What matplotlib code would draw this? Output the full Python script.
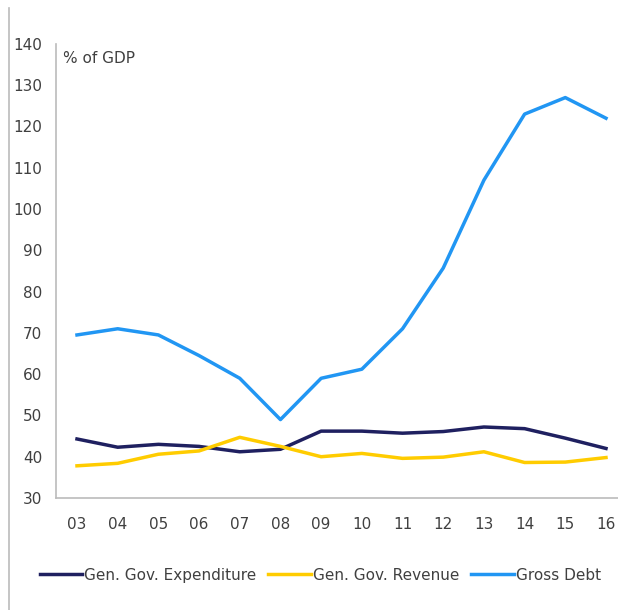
import numpy as np
import matplotlib.pyplot as plt
from matplotlib.lines import Line2D

plt.rcParams['font.family'] = ['DejaVu Sans']

years = ['03', '04', '05', '06', '07', '08', '09', '10', '11', '12', '13', '14', '15', '16']
expenditure = [44.3, 42.3, 43.0, 42.5, 41.2, 41.8, 46.2, 46.2, 45.7, 46.1, 47.2, 46.8, 44.5, 42.0]
revenue = [37.8, 38.4, 40.6, 41.4, 44.7, 42.5, 40.0, 40.8, 39.6, 39.9, 41.2, 38.6, 38.7, 39.8]
gross_debt = [69.5, 71.0, 69.5, 64.5, 59.0, 49.0, 59.0, 61.2, 71.0, 85.7, 107.0, 123.0, 127.0, 122.0]

fig = plt.figure(figsize=(6.18, 6.10), dpi=100)
ax = fig.add_axes([0.0906, 0.1836, 0.9094, 0.7444])

x = np.arange(len(years))
ax.plot(x, expenditure, color='#1f2060', lw=2.5, label='Gen. Gov. Expenditure')
ax.plot(x, revenue, color='#ffcc00', lw=2.5, label='Gen. Gov. Revenue')
ax.plot(x, gross_debt, color='#2196f3', lw=2.5, label='Gross Debt')

ax.set_xlim(-0.516, 13.295)
ax.set_ylim(30, 140)
ax.set_yticks(np.arange(30, 141, 10))
ax.set_xticks(x)
ax.set_xticklabels(years)
ax.tick_params(axis='both', length=0, labelsize=11, labelcolor='#404040')
ax.tick_params(axis='y', pad=10)
ax.tick_params(axis='x', pad=14)
for s in ['top', 'right']:
    ax.spines[s].set_visible(False)
for s in ['left', 'bottom']:
    ax.spines[s].set_color('#bbbbbb')
    ax.spines[s].set_linewidth(1.2)

ax.text(0.012, 0.985, '% of GDP', transform=ax.transAxes, fontsize=11,
        color='#404040', va='top', ha='left')

fig.legend(loc='center', bbox_to_anchor=(0.518, 0.057), ncol=3, frameon=False,
           fontsize=11, handlelength=2.8, handletextpad=0.1, columnspacing=0.8,
           labelcolor='#404040')

fig.add_artist(Line2D([9 / 618, 9 / 618], [0, 1 - 8 / 610], transform=fig.transFigure,
                      color='#bbbbbb', lw=1.2))

plt.savefig('out.png', dpi=100)
